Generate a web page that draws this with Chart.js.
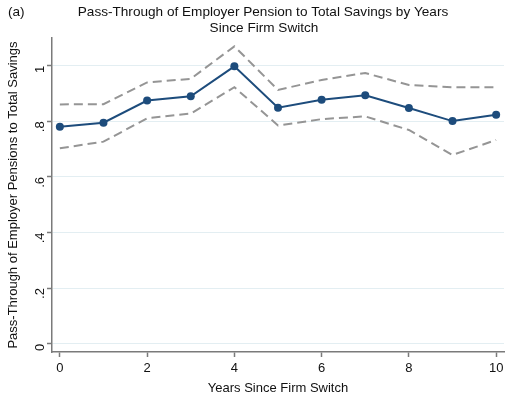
<!DOCTYPE html>
<html>
<head>
<meta charset="utf-8">
<script src="https://cdn.jsdelivr.net/npm/chart.js@4.4.0/dist/chart.umd.min.js"></script>
<style>
html,body{margin:0;padding:0;background:#fff;}
#wrap{width:508px;height:396px;}
</style>
</head>
<body>
<div id="wrap"><canvas id="c" width="508" height="396"></canvas></div>
<script>
const years = [0,1,2,3,4,5,6,7,8,9,10];
const estimate = [0.781,0.795,0.875,0.890,0.998,0.849,0.878,0.894,0.848,0.801,0.824];
const upperCI = [0.861,0.862,0.940,0.953,1.070,0.913,0.949,0.974,0.931,0.923,0.923];
const lowerCI = [0.703,0.727,0.811,0.828,0.923,0.785,0.808,0.818,0.769,0.679,0.733];
const xTicks = [0,2,4,6,8,10];
const yTicks = [0,0.2,0.4,0.6,0.8,1];
const yTickLabels = ["0",".2",".4",".6",".8","1"];
const titleLines = ["Pass-Through of Employer Pension to Total Savings by Years","Since Firm Switch"];
const panelLabel = "(a)";
const xTitle = "Years Since Firm Switch";
const yTitle = "Pass-Through of Employer Pensions to Total Savings";

const FONT = "'Liberation Sans', Arial, Helvetica, sans-serif";
const toXY = arr => arr.map((v,i)=>({x:years[i], y:v}));

const titlePlugin = {
  id:'customTitle',
  afterDraw(chart){
    const ctx = chart.ctx;
    ctx.save();
    ctx.fillStyle = '#111';
    ctx.font = "13.6px " + FONT;
    ctx.textBaseline = 'middle';
    ctx.textAlign = 'left';
    ctx.fillText(panelLabel, 8, 12);
    ctx.textAlign = 'center';
    ctx.fillText(titleLines[0], 263, 12);
    ctx.fillText(titleLines[1], 264, 28);
    ctx.restore();
  }
};

new Chart(document.getElementById('c'), {
  type:'line',
  data:{
    datasets:[
      {label:'Upper', data:toXY(upperCI), borderColor:'#959595', borderWidth:2, borderDash:[9,5], pointRadius:0, fill:false, tension:0},
      {label:'Lower', data:toXY(lowerCI), borderColor:'#959595', borderWidth:2, borderDash:[9,5], pointRadius:0, fill:false, tension:0},
      {label:'Estimate', data:toXY(estimate), borderColor:'#1d4c7c', backgroundColor:'#1d4c7c', borderWidth:2, pointRadius:4, pointBorderWidth:0, pointBackgroundColor:'#1d4c7c', fill:false, tension:0}
    ]
  },
  options:{
    responsive:false,
    animation:false,
    events:[],
    layout:{padding:{top:38, right:0, left:0, bottom:0}},
    plugins:{legend:{display:false}, title:{display:false}, tooltip:{enabled:false}},
    scales:{
      x:{
        type:'linear', min:-0.18, max:10.18,
        afterBuildTicks(axis){ axis.ticks = xTicks.map(v=>({value:v})); },
        afterFit(axis){ axis.height = 44; },
        border:{display:true, color:'#7a7a7a', width:1.5},
        grid:{drawOnChartArea:false, drawTicks:true, tickLength:5, tickColor:'#7a7a7a', tickWidth:1.5},
        ticks:{color:'#111', font:{family:FONT, size:13}, padding:4, maxRotation:0, minRotation:0},
        title:{display:true, text:xTitle, color:'#111', font:{family:FONT, size:13}, padding:{top:0,bottom:0}}
      },
      y:{
        type:'linear', min:-0.03, max:1.1,
        afterBuildTicks(axis){ axis.ticks = yTicks.map(v=>({value:v})); },
        afterFit(axis){ axis.width = 52; },
        border:{display:true, color:'#7a7a7a', width:1.5},
        grid:{color:'#e3eef2', lineWidth:1, drawTicks:true, tickLength:5, tickColor:'#7a7a7a', tickWidth:1.5},
        ticks:{color:'#111', font:{family:FONT, size:13}, padding:7, minRotation:90, maxRotation:90,
          callback(v){ const i = yTicks.findIndex(t=>Math.abs(t-v)<1e-9); return i>=0 ? yTickLabels[i] : ''; }},
        title:{display:true, text:yTitle, color:'#111', font:{family:FONT, size:13}, padding:{top:6,bottom:0}}
      }
    }
  },
  plugins:[titlePlugin]
});
</script>
</body>
</html>
